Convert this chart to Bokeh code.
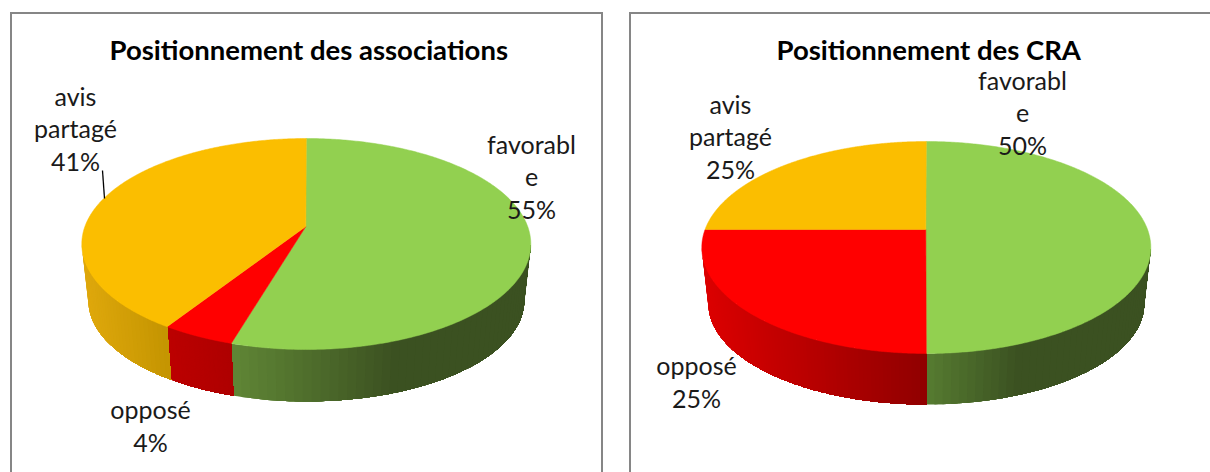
import numpy as np
from bokeh.core.properties import value
from bokeh.embed import file_html
from bokeh.layouts import row
from bokeh.models import ColumnDataSource, Range1d
from bokeh.plotting import figure
from bokeh.resources import INLINE

categories = ["favorable", "opposé", "avis partagé"]
assoc_values = [54.6, 4.5, 40.9]
cra_values = [50.0, 25.0, 25.0]
assoc_titles = "Positionnement des associations"
cra_titles = "Positionnement des CRA"
assoc_labels = ["favorabl\ne\n55%", "opposé\n4%", "avis\npartagé\n41%"]
cra_labels = ["favorabl\ne\n50%", "opposé\n25%", "avis\npartagé\n25%"]

TOP = ["#92D050", "#FF0000", "#FBBE00"]


def hex2rgb(h):
    return np.array([int(h[i:i + 2], 16) for i in (1, 3, 5)], float)


def rgb2hex(c):
    return "#%02x%02x%02x" % tuple(int(round(v)) for v in c)


def project(theta, g):
    """Clockwise-from-top angle on the disc -> unit ellipse (perspective shifts the apex up)."""
    a = g["a"]
    u, v = np.sin(theta), np.cos(theta)
    d = 1 + a * v
    return u * np.sqrt(1 - a * a) / d, (v + a) / d


def draw_pie(p, vals, g, wall_stops):
    fr = np.cumsum([0] + list(vals)) / float(sum(vals))
    xs, ys, cols = [], [], []
    for i in range(len(vals)):
        t = np.linspace(fr[i], fr[i + 1], 200) * 2 * np.pi
        px, py = project(t, g)
        keep = py <= 0
        if keep.sum() < 2:
            continue
        px, py = px[keep], py[keep]
        x_top = g["cx"] + g["rx"] * px
        y_top = g["cy"] - g["ry"] * py
        x_bot = g["cx"] + g["rxb"] * px
        y_bot = g["cyb"] - g["ryb"] * py
        # sort the wall left to right so each strip paints over the one before it
        order = np.argsort(x_top)
        x_top, y_top, x_bot, y_bot = x_top[order], y_top[order], x_bot[order], y_bot[order]
        c0, c1, xend = wall_stops[i]
        c0, c1 = hex2rgb(c0), hex2rgb(c1)
        xstart = x_top[0]
        for j in range(0, len(x_top) - 1, 2):
            f = np.clip((x_top[j] - xstart) / (xend - xstart), 0, 1)
            xs.append(list(x_top[j:]) + list(x_bot[j:][::-1]))
            ys.append(list(y_top[j:]) + list(y_bot[j:][::-1]))
            cols.append(rgb2hex(c0 + (c1 - c0) * f))
    p.patches(xs="xs", ys="ys", fill_color="c", line_color=None,
              source=ColumnDataSource(dict(xs=xs, ys=ys, c=cols)))
    xs, ys = [], []
    for i in range(len(vals)):
        t = np.linspace(fr[i], fr[i + 1], 300) * 2 * np.pi
        px, py = project(t, g)
        xs.append([g["ax"]] + list(g["cx"] + g["rx"] * px))
        ys.append([g["cy"] - g["ry"] * g["a"]] + list(g["cy"] - g["ry"] * py))
    p.patches(xs="xs", ys="ys", fill_color="c", line_color="c", line_width=0.5,
              source=ColumnDataSource(dict(xs=xs, ys=ys, c=TOP)))


def panel(title, x0, width, title_offset):
    frame_top, bottom = 65, 474
    p = figure(width=width, height=460, output_backend="svg", toolbar_location=None,
               x_axis_type=None, y_axis_type=None, outline_line_color=None,
               x_range=Range1d(x0, x0 + width), y_range=Range1d(bottom, frame_top),
               min_border_top=frame_top - 14, min_border_left=0, min_border_right=0, min_border_bottom=0,
               title=title)
    p.grid.visible = False
    p.title.align = "left"
    p.title.offset = title_offset
    p.title.text_font = "Lato"
    p.title.text_font_size = "27.5px"
    p.title.text_font_style = "bold"
    p.title.text_color = "#000000"
    p.title.standoff = 0
    return p


def draw_labels(p, xs, ys, texts):
    p.text(x=xs, y=ys, text=texts, text_font=value("Lato"), text_font_size="25px",
           text_align="center", text_baseline="middle", text_color="#1a1a1a", text_line_height=1.08)


left_g = dict(cx=305.8, cy=243.5, rx=224.5, ry=105.5, ax=305.3, a=0.166,
              rxb=218, ryb=101, cyb=300)
right_g = dict(cx=925.8, cy=247, rx=224.5, ry=106, ax=925.3, a=0.17,
               rxb=218, ryb=101, cyb=303)

p1 = panel(assoc_titles, 12, 593, 97)
p1.margin = (12, 0, 0, 10)
p1.styles = {"border-left": "2px solid #868686", "border-right": "2px solid #868686",
             "border-top": "2px solid #868686", "box-sizing": "border-box"}
draw_pie(p1, assoc_values, left_g,
         [("#5f8535", "#3b5121", 390), ("#bc0000", "#ae0000", 232), ("#dfa80c", "#c29300", 170)])
draw_labels(p1, [531, 150, 75], [176, 425, 128], assoc_labels)
p1.line(x=[102, 104], y=[170, 198], line_color="#000000", line_width=1.3)

p2 = panel(cra_titles, 631, 581, 145)
p2.margin = (12, 0, 0, 26)
p2.styles = {"border-left": "2px solid #868686", "border-top": "2px solid #868686",
             "box-sizing": "border-box"}
draw_pie(p2, cra_values, right_g,
         [("#557a30", "#3b5121", 1015), ("#dc0000", "#8f0000", 926), ("#dfa80c", "#c29300", 926)])
draw_labels(p2, [1022, 696, 730], [112, 381, 136], cra_labels)

open("out.html", "w").write(file_html(row(p1, p2), INLINE))
